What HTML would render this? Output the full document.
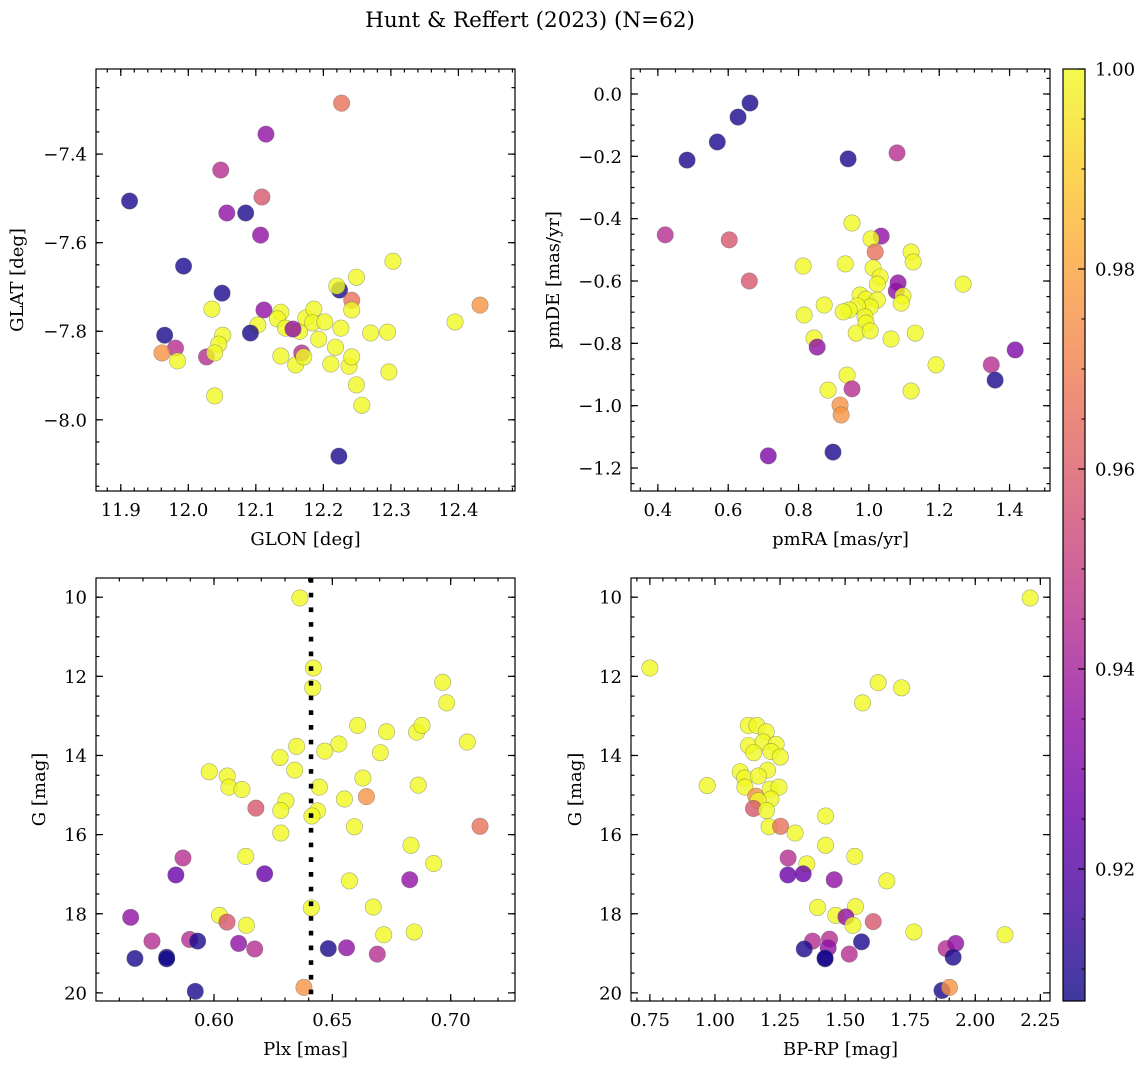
<!DOCTYPE html>
<html><head><meta charset="utf-8">
<style>
body{margin:0;background:#fff;}
svg{display:block;font-family:"DejaVu Serif","Liberation Serif",serif;}
</style></head>
<body>
<svg id="fig" width="1148" height="1068" viewBox="0 0 1148 1068" xmlns="http://www.w3.org/2000/svg">
<text x="530" y="27" font-size="21.5" text-anchor="middle">Hunt &amp; Reffert (2023) (N=62)</text>
</svg>
<script>
// ---------- DATA ----------
const glonVals=[12.227,12.115,12.048,11.913,12.109,12.057,12.085,12.107,11.993,12.050,12.035,12.224,12.220,12.249,12.303,12.242,12.242,12.432,12.395,11.965,11.981,11.961,11.984,12.027,12.051,12.045,12.039,12.112,12.103,12.092,12.137,12.132,12.144,12.165,12.155,12.174,12.186,12.184,12.202,12.193,12.226,12.218,12.270,12.295,12.137,12.159,12.168,12.171,12.211,12.238,12.242,12.297,12.249,12.257,12.039,12.223];
const glatVals=[-7.285,-7.355,-7.436,-7.506,-7.497,-7.533,-7.533,-7.583,-7.653,-7.714,-7.750,-7.707,-7.698,-7.678,-7.642,-7.730,-7.752,-7.741,-7.779,-7.809,-7.838,-7.849,-7.867,-7.858,-7.809,-7.829,-7.849,-7.752,-7.786,-7.804,-7.757,-7.772,-7.793,-7.800,-7.795,-7.770,-7.750,-7.781,-7.779,-7.818,-7.793,-7.836,-7.804,-7.802,-7.856,-7.876,-7.849,-7.858,-7.874,-7.879,-7.858,-7.892,-7.921,-7.967,-7.946,-8.082];
const glProb=[0.966,0.935,0.945,0.909,0.958,0.935,0.909,0.935,0.909,0.909,1,0.909,1,1,1,0.966,1,0.976,1,0.909,0.945,0.976,1,0.945,1,1,1,0.935,1,0.909,1,1,1,1,0.935,1,1,1,1,1,1,1,1,1,1,1,0.945,1,1,1,1,1,1,1,1,0.909];

const pmraVals=[0.662,0.628,0.569,0.483,0.941,1.080,0.421,0.603,0.660,0.952,1.035,1.006,1.018,1.120,1.126,0.813,0.933,1.012,1.032,1.024,1.083,1.078,1.097,1.092,1.268,0.975,0.992,1.024,1.004,0.967,0.944,0.927,0.873,0.816,0.989,0.992,0.964,1.004,1.063,1.132,0.844,0.853,1.191,0.938,0.884,0.952,1.120,0.918,0.921,1.348,1.359,1.416,0.714,0.898];
const pmdeVals=[-0.029,-0.074,-0.154,-0.212,-0.208,-0.189,-0.452,-0.468,-0.600,-0.414,-0.456,-0.465,-0.507,-0.507,-0.539,-0.552,-0.545,-0.558,-0.587,-0.610,-0.606,-0.632,-0.648,-0.671,-0.610,-0.645,-0.658,-0.661,-0.683,-0.680,-0.693,-0.699,-0.677,-0.709,-0.715,-0.735,-0.767,-0.760,-0.786,-0.767,-0.783,-0.812,-0.869,-0.902,-0.950,-0.946,-0.953,-0.998,-1.030,-0.869,-0.918,-0.821,-1.161,-1.149];
const pmProb=[0.909,0.909,0.909,0.909,0.909,0.945,0.945,0.958,0.958,1,0.935,1,0.966,1,1,1,1,1,1,1,0.935,0.935,1,1,1,1,1,1,1,1,1,1,1,1,1,1,1,1,1,1,1,0.935,1,1,1,0.945,1,0.976,0.976,0.945,0.909,0.930,0.930,0.909];

const plxVals=[0.6363,0.642,0.6417,0.6966,0.6983,0.6607,0.6729,0.6856,0.6879,0.7070,0.6527,0.6468,0.6349,0.6279,0.6703,0.6341,0.598,0.6056,0.6063,0.6118,0.6629,0.6863,0.6445,0.6644,0.6551,0.6304,0.6282,0.6437,0.6414,0.6177,0.7124,0.6282,0.6593,0.6832,0.6928,0.6134,0.5869,0.5839,0.6214,0.6572,0.6827,0.6411,0.6673,0.6023,0.6055,0.6137,0.6717,0.6846,0.5648,0.5738,0.5897,0.5931,0.6104,0.6172,0.6483,0.6560,0.669,0.5666,0.58,0.58,0.5921,0.638];
const gMagPlx=[10.02,11.79,12.29,12.15,12.67,13.24,13.40,13.41,13.24,13.66,13.71,13.89,13.77,14.05,13.93,14.37,14.41,14.52,14.80,14.86,14.57,14.75,14.80,15.04,15.10,15.15,15.39,15.40,15.53,15.33,15.79,15.96,15.80,16.27,16.73,16.55,16.59,17.02,16.99,17.17,17.14,17.85,17.83,18.04,18.21,18.29,18.53,18.46,18.09,18.69,18.65,18.69,18.75,18.89,18.88,18.86,19.02,19.13,19.10,19.14,19.96,19.86];
const plxProb=[1,1,1,1,1,1,1,1,1,1,1,1,1,1,1,1,1,1,1,1,1,1,1,0.976,1,1,1,1,1,0.958,0.966,1,1,1,1,1,0.945,0.925,0.925,1,0.935,1,1,1,0.958,1,1,1,0.935,0.945,0.945,0.909,0.935,0.945,0.909,0.935,0.945,0.909,0.909,0.907,0.909,0.976];
const plxCut=[0.641];

const bprpVals=[2.211,0.75,1.627,1.717,1.567,1.128,1.161,1.197,1.129,1.185,1.235,1.149,1.215,1.251,1.097,1.114,1.202,1.167,0.970,1.115,1.212,1.246,1.157,1.215,1.166,1.148,1.198,1.425,1.208,1.252,1.308,1.425,1.537,1.281,1.353,1.280,1.339,1.458,1.660,1.394,1.540,1.464,1.503,1.530,1.608,1.764,2.114,1.375,1.440,1.435,1.343,1.563,1.516,1.423,1.423,1.888,1.925,1.915,1.872,1.901];
const gMagCmd=[10.02,11.79,12.16,12.29,12.67,13.24,13.24,13.40,13.75,13.66,13.72,13.93,13.90,14.04,14.41,14.57,14.37,14.52,14.76,14.80,14.85,14.80,15.03,15.10,15.14,15.34,15.39,15.53,15.80,15.79,15.96,16.27,16.55,16.59,16.74,17.02,16.99,17.14,17.17,17.84,17.82,18.04,18.08,18.29,18.20,18.46,18.53,18.69,18.64,18.86,18.89,18.71,19.02,19.14,19.12,18.88,18.75,19.10,19.94,19.86];
const cmdProb=[1,1,1,1,1,1,1,1,1,1,1,1,1,1,1,1,1,1,1,1,1,1,0.976,1,1,0.958,1,1,1,0.966,1,1,1,0.945,1,0.925,0.925,0.935,1,1,1,1,0.935,1,0.958,1,1,0.945,0.945,0.935,0.909,0.909,0.945,0.907,0.909,0.945,0.935,0.909,0.909,0.976];

const cbTicks=[0.92,0.94,0.96,0.98,1.00];
const magTicks=[10,12,14,16,18,20];
const VMIN=0.9068, VMAX=1.0;
const MAGLIM=[9.5148,20.2047];

// ---------- HELPERS ----------
const NS="http://www.w3.org/2000/svg";
const svg=document.getElementById('fig');
const TFS=18, LFS=18;
function mk(tag,attrs,parent){const e=document.createElementNS(NS,tag);for(const k in attrs)e.setAttribute(k,attrs[k]);(parent||svg).appendChild(e);return e;}
const stops=[[13,8,135],[65,4,157],[106,0,168],[143,13,164],[177,42,144],[204,71,120],[225,100,98],[242,132,75],[252,166,54],[252,206,37],[240,249,33]];
function plasma(t){t=Math.max(0,Math.min(1,t));const f=t*10,i=Math.min(9,Math.floor(f)),r=f-i;const a=stops[i],b=stops[i+1];return 'rgb('+[0,1,2].map(k=>Math.round(a[k]+(b[k]-a[k])*r)).join(',')+')';}
function fmt(v,d){return (v<0?'\u2212':'')+Math.abs(v).toFixed(d);}

function panel(o){
  const g=mk('g',{});
  
  
  const L=o.x0,R=o.x1,T=o.y0,B=o.y1;
  const sx=v=>L+(v-o.xlim[0])/(o.xlim[1]-o.xlim[0])*(R-L);
  const sy=o.invert ? (v=>T+(v-o.ylim[0])/(o.ylim[1]-o.ylim[0])*(B-T))
                    : (v=>T+(o.ylim[1]-v)/(o.ylim[1]-o.ylim[0])*(B-T));
  const clipId='clip-'+o.name;
  const cp=mk('clipPath',{id:clipId},g);mk('rect',{x:L,y:T,width:R-L,height:B-T},cp);
  const pts=mk('g',{'clip-path':'url(#'+clipId+')'},g);
  for(let i=0;i<o.xs.length;i++){
    const c=mk('circle',{cx:sx(o.xs[i]),cy:sy(o.ys[i]),r:8.2,fill:plasma((o.cs[i]-VMIN)/(VMAX-VMIN)),'fill-opacity':0.8,stroke:'#555','stroke-opacity':0.5,'stroke-width':0.6},pts);
    
    
  }
  if(o.vline){const ln=mk('line',{x1:sx(o.vline[0]),x2:sx(o.vline[0]),y1:T,y2:B,stroke:'#000','stroke-width':4.5,'stroke-dasharray':'4.7 10'},pts);
    
    }
  const ax=mk('g',{stroke:'#000','stroke-width':1.2,fill:'none'},g);
  mk('rect',{x:L,y:T,width:R-L,height:B-T},ax);
  function ticks(lo,hi,step,isX,len){
    const s=Math.ceil(lo/step-1e-6);
    for(let k=s;k*step<=hi+1e-9;k++){const v=k*step;
      if(isX){const p=sx(v);mk('line',{x1:p,x2:p,y1:B,y2:B-len},ax);mk('line',{x1:p,x2:p,y1:T,y2:T+len},ax);}
      else{const p=sy(v);mk('line',{x1:L,x2:L+len,y1:p,y2:p},ax);mk('line',{x1:R,x2:R-len,y1:p,y2:p},ax);}
    }
  }
  ticks(o.xlim[0],o.xlim[1],o.xminor,true,3.5);
  ticks(o.ylim[0],o.ylim[1],o.yminor,false,3.5);
  ticks(o.xlim[0],o.xlim[1],o.xmajor,true,7);
  ticks(o.ylim[0],o.ylim[1],o.ymajor,false,7);
  for(const v of o.xticks){const t=mk('text',{x:sx(v),y:B+25,'font-size':TFS,'text-anchor':'middle'},g);t.textContent=fmt(v,o.xd);
    }
  for(const v of o.yticks){const t=mk('text',{x:L-9,y:sy(v)+6.5,'font-size':TFS,'text-anchor':'end'},g);t.textContent=fmt(v,o.yd);
    }
  const xl=mk('text',{x:(L+R)/2,y:B+54,'font-size':LFS,'text-anchor':'middle'},g);xl.textContent=o.xlabel;
  
  const yx=o.ylx,yc=(T+B)/2;
  const yl=mk('text',{x:yx,y:yc,'font-size':LFS,'text-anchor':'middle',transform:'rotate(-90 '+yx+' '+yc+')'},g);yl.textContent=o.ylabel;
  
}

panel({name:'glon-glat-panel',x0:96,x1:515,y0:69,y1:491,xlim:[11.8633,12.4838],ylim:[-8.1607,-7.2079],
  xs:glonVals,ys:glatVals,cs:glProb,xmajor:0.1,xminor:0.02,ymajor:0.2,yminor:0.05,
  xticks:[11.9,12.0,12.1,12.2,12.3,12.4],yticks:[-7.4,-7.6,-7.8,-8.0],xd:1,yd:1,xlabel:'GLON [deg]',ylabel:'GLAT [deg]',ylx:23});
panel({name:'proper-motion-panel',x0:631,x1:1050,y0:69,y1:491,xlim:[0.3236,1.515],ylim:[-1.2737,0.0802],
  xs:pmraVals,ys:pmdeVals,cs:pmProb,xmajor:0.2,xminor:0.05,ymajor:0.2,yminor:0.05,
  xticks:[0.4,0.6,0.8,1.0,1.2,1.4],yticks:[0.0,-0.2,-0.4,-0.6,-0.8,-1.0,-1.2],xd:1,yd:1,xlabel:'pmRA [mas/yr]',ylabel:'pmDE [mas/yr]',ylx:559});
panel({name:'parallax-magnitude-panel',x0:96,x1:515,y0:578,y1:1001,xlim:[0.55015,0.72717],ylim:MAGLIM,invert:true,
  xs:plxVals,ys:gMagPlx,cs:plxProb,xmajor:0.05,xminor:0.01,ymajor:2,yminor:0.5,
  xticks:[0.60,0.65,0.70],yticks:magTicks,xd:2,yd:0,xlabel:'Plx [mas]',ylabel:'G [mag]',ylx:45,vline:plxCut});
panel({name:'color-magnitude-panel',x0:631,x1:1050,y0:578,y1:1001,xlim:[0.6774,2.2871],ylim:MAGLIM,invert:true,
  xs:bprpVals,ys:gMagCmd,cs:cmdProb,xmajor:0.25,xminor:0.05,ymajor:2,yminor:0.5,
  xticks:[0.75,1.00,1.25,1.50,1.75,2.00,2.25],yticks:magTicks,xd:2,yd:0,xlabel:'BP-RP [mag]',ylabel:'G [mag]',ylx:581});

// colorbar
const defs=mk('defs',{});
const grad=mk('linearGradient',{id:'cbg',x1:0,y1:1,x2:0,y2:0},defs);
for(let i=0;i<=20;i++){mk('stop',{offset:i/20,'stop-color':plasma(i/20),'stop-opacity':0.8},grad);}
const cb=mk('g',{});


const CT=69,CB=1001,CL=1063,CR=1085;
const cy=v=>CB-(v-VMIN)/(VMAX-VMIN)*(CB-CT);
mk('rect',{x:CL,y:CT,width:CR-CL,height:CB-CT,fill:'url(#cbg)'},cb);
mk('rect',{x:CL,y:CT,width:CR-CL,height:CB-CT,fill:'none',stroke:'#000','stroke-width':1.2},cb);
for(let v=0.91;v<=1.0001;v+=0.005){mk('line',{x1:CR,x2:CR-3.5,y1:cy(v),y2:cy(v),stroke:'#000','stroke-width':1},cb);}
for(const v of cbTicks){mk('line',{x1:CR,x2:CR-7,y1:cy(v),y2:cy(v),stroke:'#000','stroke-width':1.2},cb);
  const t=mk('text',{x:CR+10,y:cy(v)+6.5,'font-size':TFS},cb);t.textContent=v.toFixed(2);
  
  }
</script>
</body></html>
